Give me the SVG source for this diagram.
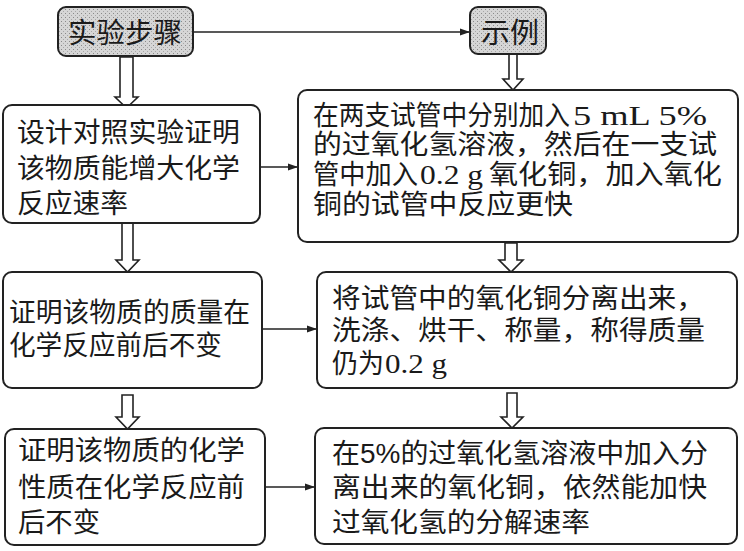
<svg xmlns="http://www.w3.org/2000/svg" width="744" height="551" viewBox="0 0 744 551">
<style>
.box{fill:#fff;stroke:#222;stroke-width:2}
.hdr{stroke:#222;stroke-width:2}
.t{font-family:"Liberation Sans","Noto Sans CJK SC",sans-serif;font-size:27px;fill:#1a1a1a}
.n{font-family:"Liberation Serif",serif;font-size:28px;fill:#1a1a1a}
.ln{stroke:#222;stroke-width:1.6;fill:none}
.ha{fill:#fff;stroke:#222;stroke-width:1.6;stroke-linejoin:miter}
</style>
<defs>
<marker id="ah" markerWidth="10" markerHeight="8" refX="9" refY="4" orient="auto" markerUnits="userSpaceOnUse">
<path d="M0,0.5 L10,4 L0,7.5 Z" fill="#222"/>
</marker>
<pattern id="dots" width="4" height="4" patternUnits="userSpaceOnUse">
<rect width="4" height="4" fill="#d6d6d6"/>
<rect x="1" y="1" width="1" height="1" fill="#8a8a8a"/>
<rect x="3" y="3" width="1" height="1" fill="#a8a8a8"/>
</pattern>
</defs>

<g id="connectors">
<line class="ln" x1="193" y1="32" x2="469" y2="32" marker-end="url(#ah)"/>
<line class="ln" x1="260" y1="167" x2="297" y2="167" marker-end="url(#ah)"/>
<line class="ln" x1="262" y1="329" x2="316" y2="329" marker-end="url(#ah)"/>
<line class="ln" x1="265" y1="487" x2="314" y2="487" marker-end="url(#ah)"/>
<polygon class="ha" points="120,57 133,57 133,97 138,97 126.5,108 115,97 120,97"/>
<polygon class="ha" points="509,54 517,54 517,79 523,79 513,90 503,79 509,79"/>
<polygon class="ha" points="122,223 133,223 133,260 139,260 127.5,272 116,260 122,260"/>
<polygon class="ha" points="505,243 517,243 517,260 523,260 511,272 499,260 505,260"/>
<polygon class="ha" points="122,395 133,395 133,417 139,417 127.5,429 116,417 122,417"/>
<polygon class="ha" points="507,393 517,393 517,417 523,417 512,428 501,417 507,417"/>
</g>

<g id="hdr-steps">
<rect class="hdr" x="58" y="7" width="135" height="49" rx="8" fill="url(#dots)"/>
<text class="t" x="68" y="43" textLength="114" lengthAdjust="spacingAndGlyphs" style="font-size:28px">实验步骤</text>
</g>
<g id="hdr-example">
<rect class="hdr" x="470" y="7" width="76" height="47" rx="8" fill="url(#dots)"/>
<text class="t" x="481" y="43" textLength="58" lengthAdjust="spacingAndGlyphs" style="font-size:28px">示例</text>
</g>

<g id="step1">
<rect class="box" x="3" y="105" width="257" height="118" rx="9"/>
<text class="t" x="17" y="142" textLength="223" lengthAdjust="spacingAndGlyphs">设计对照实验证明</text>
<text class="t" x="17" y="178" textLength="223" lengthAdjust="spacingAndGlyphs">该物质能增大化学</text>
<text class="t" x="17" y="213" textLength="111" lengthAdjust="spacingAndGlyphs">反应速率</text>
</g>

<g id="example1">
<rect class="box" x="298" y="90" width="440" height="152" rx="9"/>
<text class="t" x="313" y="125" textLength="257" lengthAdjust="spacingAndGlyphs">在两支试管中分别加入</text>
<text class="n" x="573" y="125" textLength="134" lengthAdjust="spacingAndGlyphs">5 mL 5%</text>
<text class="t" x="313" y="154" textLength="404" lengthAdjust="spacingAndGlyphs">的过氧化氢溶液，然后在一支试</text>
<text class="t" x="313" y="184" textLength="105" lengthAdjust="spacingAndGlyphs">管中加入</text>
<text class="n" x="420" y="184" textLength="63" lengthAdjust="spacingAndGlyphs">0.2 g</text>
<text class="t" x="489" y="184" textLength="233" lengthAdjust="spacingAndGlyphs">氧化铜，加入氧化</text>
<text class="t" x="313" y="214" textLength="260" lengthAdjust="spacingAndGlyphs">铜的试管中反应更快</text>
</g>

<g id="step2">
<rect class="box" x="3" y="272" width="259" height="116" rx="9"/>
<text class="t" x="9" y="322" textLength="241" lengthAdjust="spacingAndGlyphs">证明该物质的质量在</text>
<text class="t" x="9" y="355" textLength="213" lengthAdjust="spacingAndGlyphs">化学反应前后不变</text>
</g>

<g id="example2">
<rect class="box" x="317" y="272" width="420" height="116" rx="9"/>
<text class="t" x="332" y="308" textLength="373" lengthAdjust="spacingAndGlyphs">将试管中的氧化铜分离出来，</text>
<text class="t" x="332" y="340" textLength="373" lengthAdjust="spacingAndGlyphs">洗涤、烘干、称量，称得质量</text>
<text class="t" x="332" y="373" textLength="52" lengthAdjust="spacingAndGlyphs">仍为</text>
<text class="n" x="385" y="373" textLength="62" lengthAdjust="spacingAndGlyphs">0.2 g</text>
</g>

<g id="step3">
<rect class="box" x="5" y="429" width="260" height="116" rx="9"/>
<text class="t" x="18" y="460" textLength="227" lengthAdjust="spacingAndGlyphs">证明该物质的化学</text>
<text class="t" x="18" y="497" textLength="227" lengthAdjust="spacingAndGlyphs">性质在化学反应前</text>
<text class="t" x="18" y="532" textLength="82" lengthAdjust="spacingAndGlyphs">后不变</text>
</g>

<g id="example3">
<rect class="box" x="315" y="428" width="422" height="116" rx="9"/>
<text class="t" x="332" y="463" textLength="376" lengthAdjust="spacingAndGlyphs">在5%的过氧化氢溶液中加入分</text>
<text class="t" x="332" y="497" textLength="375" lengthAdjust="spacingAndGlyphs">离出来的氧化铜，依然能加快</text>
<text class="t" x="332" y="532" textLength="258" lengthAdjust="spacingAndGlyphs">过氧化氢的分解速率</text>
</g>
</svg>
